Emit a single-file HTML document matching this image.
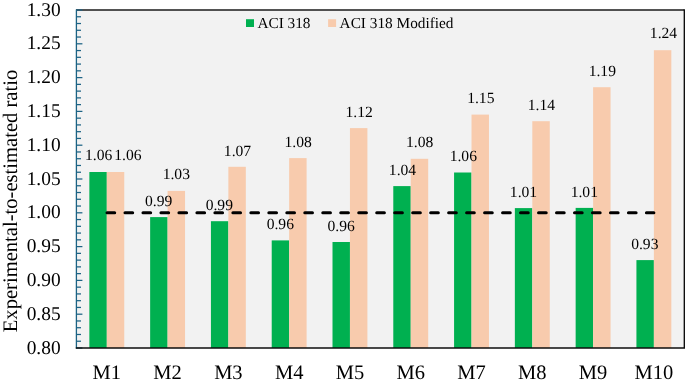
<!DOCTYPE html>
<html><head><meta charset="utf-8"><style>
html,body{margin:0;padding:0;background:#fff;width:685px;height:385px;overflow:hidden}
svg{display:block;will-change:transform}
text{font-family:"Liberation Serif",serif;fill:#000;text-rendering:geometricPrecision}
.tl{font-size:19.4px}
.xl{font-size:20.5px}
.dl{font-size:15.6px}
.lg{font-size:15.3px}
.yt{font-size:20.6px}
</style></head><body>
<svg width="685" height="385" viewBox="0 0 685 385" xmlns="http://www.w3.org/2000/svg">
<rect x="76.0" y="10.0" width="608.0" height="338.0" fill="#f2f2f2"/>
<rect x="89.35" y="172.00" width="17.45" height="176.00" fill="#00b050"/>
<rect x="106.80" y="172.00" width="17.45" height="176.00" fill="#f8cbad"/>
<rect x="150.14" y="217.10" width="17.45" height="130.90" fill="#00b050"/>
<rect x="167.59" y="190.90" width="17.45" height="157.10" fill="#f8cbad"/>
<rect x="210.92" y="221.20" width="17.45" height="126.80" fill="#00b050"/>
<rect x="228.37" y="166.80" width="17.45" height="181.20" fill="#f8cbad"/>
<rect x="271.71" y="240.40" width="17.45" height="107.60" fill="#00b050"/>
<rect x="289.16" y="158.10" width="17.45" height="189.90" fill="#f8cbad"/>
<rect x="332.50" y="242.00" width="17.45" height="106.00" fill="#00b050"/>
<rect x="349.95" y="128.10" width="17.45" height="219.90" fill="#f8cbad"/>
<rect x="393.29" y="186.10" width="17.45" height="161.90" fill="#00b050"/>
<rect x="410.74" y="158.80" width="17.45" height="189.20" fill="#f8cbad"/>
<rect x="454.07" y="172.50" width="17.45" height="175.50" fill="#00b050"/>
<rect x="471.52" y="114.60" width="17.45" height="233.40" fill="#f8cbad"/>
<rect x="514.86" y="208.10" width="17.45" height="139.90" fill="#00b050"/>
<rect x="532.31" y="121.20" width="17.45" height="226.80" fill="#f8cbad"/>
<rect x="575.65" y="207.90" width="17.45" height="140.10" fill="#00b050"/>
<rect x="593.10" y="87.20" width="17.45" height="260.80" fill="#f8cbad"/>
<rect x="636.43" y="260.10" width="17.45" height="87.90" fill="#00b050"/>
<rect x="653.88" y="50.20" width="17.45" height="297.80" fill="#f8cbad"/>
<line x1="107.00" y1="212.7" x2="653.88" y2="212.7" stroke="#000" stroke-width="3" stroke-linecap="round" stroke-dasharray="7.7 10.28"/>
<line x1="76.0" y1="10.0" x2="684.0" y2="10.0" stroke="#1a1a1a" stroke-width="1.3"/>
<line x1="684.3" y1="9.35" x2="684.3" y2="348.0" stroke="#000" stroke-width="1.3"/>
<line x1="76.4" y1="9.4" x2="76.4" y2="348.6" stroke="#1c6385" stroke-width="1.3"/>
<line x1="76.4" y1="348.00" x2="82.40" y2="348.00" stroke="#1c6385" stroke-width="1.25"/>
<line x1="76.4" y1="341.24" x2="81.00" y2="341.24" stroke="#1c6385" stroke-width="1.25"/>
<line x1="76.4" y1="334.48" x2="81.00" y2="334.48" stroke="#1c6385" stroke-width="1.25"/>
<line x1="76.4" y1="327.72" x2="81.00" y2="327.72" stroke="#1c6385" stroke-width="1.25"/>
<line x1="76.4" y1="320.96" x2="81.00" y2="320.96" stroke="#1c6385" stroke-width="1.25"/>
<line x1="76.4" y1="314.20" x2="82.40" y2="314.20" stroke="#1c6385" stroke-width="1.25"/>
<line x1="76.4" y1="307.44" x2="81.00" y2="307.44" stroke="#1c6385" stroke-width="1.25"/>
<line x1="76.4" y1="300.68" x2="81.00" y2="300.68" stroke="#1c6385" stroke-width="1.25"/>
<line x1="76.4" y1="293.92" x2="81.00" y2="293.92" stroke="#1c6385" stroke-width="1.25"/>
<line x1="76.4" y1="287.16" x2="81.00" y2="287.16" stroke="#1c6385" stroke-width="1.25"/>
<line x1="76.4" y1="280.40" x2="82.40" y2="280.40" stroke="#1c6385" stroke-width="1.25"/>
<line x1="76.4" y1="273.64" x2="81.00" y2="273.64" stroke="#1c6385" stroke-width="1.25"/>
<line x1="76.4" y1="266.88" x2="81.00" y2="266.88" stroke="#1c6385" stroke-width="1.25"/>
<line x1="76.4" y1="260.12" x2="81.00" y2="260.12" stroke="#1c6385" stroke-width="1.25"/>
<line x1="76.4" y1="253.36" x2="81.00" y2="253.36" stroke="#1c6385" stroke-width="1.25"/>
<line x1="76.4" y1="246.60" x2="82.40" y2="246.60" stroke="#1c6385" stroke-width="1.25"/>
<line x1="76.4" y1="239.84" x2="81.00" y2="239.84" stroke="#1c6385" stroke-width="1.25"/>
<line x1="76.4" y1="233.08" x2="81.00" y2="233.08" stroke="#1c6385" stroke-width="1.25"/>
<line x1="76.4" y1="226.32" x2="81.00" y2="226.32" stroke="#1c6385" stroke-width="1.25"/>
<line x1="76.4" y1="219.56" x2="81.00" y2="219.56" stroke="#1c6385" stroke-width="1.25"/>
<line x1="76.4" y1="212.80" x2="82.40" y2="212.80" stroke="#1c6385" stroke-width="1.25"/>
<line x1="76.4" y1="206.04" x2="81.00" y2="206.04" stroke="#1c6385" stroke-width="1.25"/>
<line x1="76.4" y1="199.28" x2="81.00" y2="199.28" stroke="#1c6385" stroke-width="1.25"/>
<line x1="76.4" y1="192.52" x2="81.00" y2="192.52" stroke="#1c6385" stroke-width="1.25"/>
<line x1="76.4" y1="185.76" x2="81.00" y2="185.76" stroke="#1c6385" stroke-width="1.25"/>
<line x1="76.4" y1="179.00" x2="82.40" y2="179.00" stroke="#1c6385" stroke-width="1.25"/>
<line x1="76.4" y1="172.24" x2="81.00" y2="172.24" stroke="#1c6385" stroke-width="1.25"/>
<line x1="76.4" y1="165.48" x2="81.00" y2="165.48" stroke="#1c6385" stroke-width="1.25"/>
<line x1="76.4" y1="158.72" x2="81.00" y2="158.72" stroke="#1c6385" stroke-width="1.25"/>
<line x1="76.4" y1="151.96" x2="81.00" y2="151.96" stroke="#1c6385" stroke-width="1.25"/>
<line x1="76.4" y1="145.20" x2="82.40" y2="145.20" stroke="#1c6385" stroke-width="1.25"/>
<line x1="76.4" y1="138.44" x2="81.00" y2="138.44" stroke="#1c6385" stroke-width="1.25"/>
<line x1="76.4" y1="131.68" x2="81.00" y2="131.68" stroke="#1c6385" stroke-width="1.25"/>
<line x1="76.4" y1="124.92" x2="81.00" y2="124.92" stroke="#1c6385" stroke-width="1.25"/>
<line x1="76.4" y1="118.16" x2="81.00" y2="118.16" stroke="#1c6385" stroke-width="1.25"/>
<line x1="76.4" y1="111.40" x2="82.40" y2="111.40" stroke="#1c6385" stroke-width="1.25"/>
<line x1="76.4" y1="104.64" x2="81.00" y2="104.64" stroke="#1c6385" stroke-width="1.25"/>
<line x1="76.4" y1="97.88" x2="81.00" y2="97.88" stroke="#1c6385" stroke-width="1.25"/>
<line x1="76.4" y1="91.12" x2="81.00" y2="91.12" stroke="#1c6385" stroke-width="1.25"/>
<line x1="76.4" y1="84.36" x2="81.00" y2="84.36" stroke="#1c6385" stroke-width="1.25"/>
<line x1="76.4" y1="77.60" x2="82.40" y2="77.60" stroke="#1c6385" stroke-width="1.25"/>
<line x1="76.4" y1="70.84" x2="81.00" y2="70.84" stroke="#1c6385" stroke-width="1.25"/>
<line x1="76.4" y1="64.08" x2="81.00" y2="64.08" stroke="#1c6385" stroke-width="1.25"/>
<line x1="76.4" y1="57.32" x2="81.00" y2="57.32" stroke="#1c6385" stroke-width="1.25"/>
<line x1="76.4" y1="50.56" x2="81.00" y2="50.56" stroke="#1c6385" stroke-width="1.25"/>
<line x1="76.4" y1="43.80" x2="82.40" y2="43.80" stroke="#1c6385" stroke-width="1.25"/>
<line x1="76.4" y1="37.04" x2="81.00" y2="37.04" stroke="#1c6385" stroke-width="1.25"/>
<line x1="76.4" y1="30.28" x2="81.00" y2="30.28" stroke="#1c6385" stroke-width="1.25"/>
<line x1="76.4" y1="23.52" x2="81.00" y2="23.52" stroke="#1c6385" stroke-width="1.25"/>
<line x1="76.4" y1="16.76" x2="81.00" y2="16.76" stroke="#1c6385" stroke-width="1.25"/>
<line x1="76.4" y1="10.00" x2="82.40" y2="10.00" stroke="#1c6385" stroke-width="1.25"/>
<line x1="75.8" y1="348.0" x2="685.0" y2="348.0" stroke="#0d0d0d" stroke-width="1.5"/>
<text x="60.6" y="353.60" text-anchor="end" class="tl">0.80</text>
<text x="60.6" y="319.80" text-anchor="end" class="tl">0.85</text>
<text x="60.6" y="286.00" text-anchor="end" class="tl">0.90</text>
<text x="60.6" y="252.20" text-anchor="end" class="tl">0.95</text>
<text x="60.6" y="218.40" text-anchor="end" class="tl">1.00</text>
<text x="60.6" y="184.60" text-anchor="end" class="tl">1.05</text>
<text x="60.6" y="150.80" text-anchor="end" class="tl">1.10</text>
<text x="60.6" y="117.00" text-anchor="end" class="tl">1.15</text>
<text x="60.6" y="83.20" text-anchor="end" class="tl">1.20</text>
<text x="60.6" y="49.40" text-anchor="end" class="tl">1.25</text>
<text x="60.6" y="15.60" text-anchor="end" class="tl">1.30</text>
<text x="106.80" y="378.5" text-anchor="middle" class="xl">M1</text>
<text x="167.59" y="378.5" text-anchor="middle" class="xl">M2</text>
<text x="228.37" y="378.5" text-anchor="middle" class="xl">M3</text>
<text x="289.16" y="378.5" text-anchor="middle" class="xl">M4</text>
<text x="349.95" y="378.5" text-anchor="middle" class="xl">M5</text>
<text x="410.74" y="378.5" text-anchor="middle" class="xl">M6</text>
<text x="471.52" y="378.5" text-anchor="middle" class="xl">M7</text>
<text x="532.31" y="378.5" text-anchor="middle" class="xl">M8</text>
<text x="593.10" y="378.5" text-anchor="middle" class="xl">M9</text>
<text x="653.88" y="378.5" text-anchor="middle" class="xl">M10</text>
<text x="98.65" y="160.20" text-anchor="middle" class="dl">1.06</text>
<text x="127.90" y="160.20" text-anchor="middle" class="dl">1.06</text>
<text x="158.70" y="205.70" text-anchor="middle" class="dl">0.99</text>
<text x="176.30" y="179.30" text-anchor="middle" class="dl">1.03</text>
<text x="219.30" y="209.50" text-anchor="middle" class="dl">0.99</text>
<text x="237.50" y="155.90" text-anchor="middle" class="dl">1.07</text>
<text x="280.30" y="229.30" text-anchor="middle" class="dl">0.96</text>
<text x="298.20" y="147.00" text-anchor="middle" class="dl">1.08</text>
<text x="341.10" y="231.00" text-anchor="middle" class="dl">0.96</text>
<text x="359.20" y="116.80" text-anchor="middle" class="dl">1.12</text>
<text x="402.50" y="175.00" text-anchor="middle" class="dl">1.04</text>
<text x="419.70" y="147.00" text-anchor="middle" class="dl">1.08</text>
<text x="463.30" y="161.10" text-anchor="middle" class="dl">1.06</text>
<text x="480.80" y="103.10" text-anchor="middle" class="dl">1.15</text>
<text x="523.50" y="196.60" text-anchor="middle" class="dl">1.01</text>
<text x="541.40" y="110.10" text-anchor="middle" class="dl">1.14</text>
<text x="584.30" y="196.60" text-anchor="middle" class="dl">1.01</text>
<text x="602.30" y="76.10" text-anchor="middle" class="dl">1.19</text>
<text x="644.80" y="248.80" text-anchor="middle" class="dl">0.93</text>
<text x="663.50" y="38.20" text-anchor="middle" class="dl">1.24</text>
<rect x="246" y="19.2" width="8" height="7.8" fill="#00b050"/>
<text x="257.4" y="27.6" class="lg">ACI 318</text>
<rect x="328.1" y="19.2" width="8" height="7.8" fill="#f8cbad"/>
<text x="339.6" y="27.6" class="lg">ACI 318 Modified</text>
<text transform="translate(16.6,201.0) rotate(-90)" text-anchor="middle" class="yt">Experimental-to-estimated ratio</text>
</svg>
</body></html>
